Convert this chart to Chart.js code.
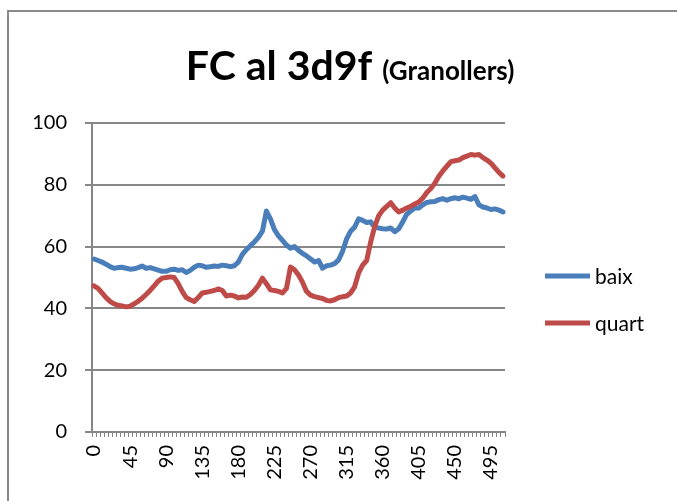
<!DOCTYPE html>
<html>
<head>
<meta charset="utf-8">
<script src="https://cdn.jsdelivr.net/npm/chart.js@4.4.1/dist/chart.umd.min.js"></script>
<style>
  html, body { margin: 0; padding: 0; background: #fff; }
  #wrap { width: 677px; height: 501px; }
</style>
</head>
<body>
<div id="wrap"><canvas id="myChart" width="677" height="501"></canvas></div>
<script>
// minuts (categories)
const minutes = [0, 5, 10, 15, 20, 25, 30, 35, 40, 45, 50, 55, 60, 65, 70, 75, 80, 85, 90, 95,
  100, 105, 110, 115, 120, 125, 130, 135, 140, 145, 150, 155, 160, 165, 170, 175, 180, 185, 190, 195,
  200, 205, 210, 215, 220, 225, 230, 235, 240, 245, 250, 255, 260, 265, 270, 275, 280, 285, 290, 295,
  300, 305, 310, 315, 320, 325, 330, 335, 340, 345, 350, 355, 360, 365, 370, 375, 380, 385, 390, 395,
  400, 405, 410, 415, 420, 425, 430, 435, 440, 445, 450, 455, 460, 465, 470, 475, 480, 485, 490, 495,
  500, 505, 510];

const baix = [56, 55.5, 55, 54.3, 53.5, 53, 53.2, 53.3, 53, 52.7,
  52.8, 53.2, 53.7, 53, 53.2, 52.8, 52.4, 52, 52, 52.5,
  52.7, 52.3, 52.5, 51.6, 52.3, 53.3, 54, 53.8, 53.3, 53.5,
  53.7, 53.6, 54, 53.8, 53.5, 53.8, 55, 57.5, 59, 60.3,
  61.5, 63, 65, 71.5, 69, 65.5, 63.5, 62, 60.5, 59.5,
  60, 58.8, 57.8, 57, 56, 55, 55.5, 53, 53.8, 54,
  54.5, 55.7, 58.5, 62.5, 65, 66.3, 69, 68.5, 67.8, 68,
  66.3, 66, 65.8, 65.7, 66, 64.8, 65.8, 68, 70.5, 71.5,
  72.5, 72.5, 73.5, 74.3, 74.5, 74.6, 75.2, 75.5, 75, 75.5,
  75.8, 75.5, 76, 75.7, 75.3, 76.2, 73.5, 72.8, 72.5, 72,
  72.2, 71.8, 71.2];

const quart = [47.3, 46.5, 45, 43.5, 42.3, 41.5, 41, 40.8, 40.5, 40.7,
  41.5, 42.3, 43.3, 44.5, 45.8, 47.3, 48.8, 49.8, 50, 50.2,
  50, 48, 45.5, 43.5, 42.8, 42.2, 43.5, 45, 45.2, 45.5,
  45.8, 46.3, 45.8, 44, 44.3, 44, 43.4, 43.7, 43.6, 44.5,
  45.8, 47.5, 49.8, 48, 46, 45.8, 45.5, 45, 46.5, 53.4,
  52.5, 50.8, 48.5, 45.5, 44.3, 43.8, 43.5, 43.2, 42.6, 42.4,
  42.8, 43.5, 43.8, 44, 45, 47, 51.5, 54, 55.5, 61.5,
  66.5, 70, 71.8, 73, 74.2, 72.5, 71.2, 71.8, 72.5, 73,
  73.8, 74.4, 75.7, 77.5, 78.8, 80.5, 82.8, 84.5, 86, 87.5,
  87.8, 88, 88.8, 89.3, 89.8, 89.6, 89.8, 88.8, 88, 87,
  85.5, 84, 82.8];

const yTicks = [0, 20, 40, 60, 80, 100];

const FONT = 'Lato, "Open Sans", sans-serif';
const GRID = '#878787';

// marc, títol i llegenda dibuixats a mà
const decor = {
  id: 'decor',
  beforeDraw(chart) {
    const ctx = chart.ctx;
    ctx.save();
    ctx.fillStyle = '#fff';
    ctx.fillRect(0, 0, chart.width, chart.height);
    ctx.strokeStyle = '#8a8a8a';
    ctx.lineWidth = 2;
    ctx.strokeRect(8, 11, 700, 520);
    ctx.restore();
  },
  afterDraw(chart) {
    const ctx = chart.ctx;
    ctx.save();
    // títol
    const big = 'bold 41px ' + FONT;
    const small = 'bold 26px ' + FONT;
    const t1 = 'FC al 3d9f';
    const t2 = '(Granollers)';
    ctx.font = big;
    const w1 = ctx.measureText(t1).width;
    ctx.font = small;
    const w2 = ctx.measureText(t2).width;
    const gap = 10;
    let x = 350 - (w1 + gap + w2) / 2;
    ctx.fillStyle = '#000';
    ctx.textBaseline = 'alphabetic';
    ctx.textAlign = 'left';
    ctx.font = big;
    ctx.fillText(t1, x, 80);
    ctx.font = small;
    ctx.fillText(t2, x + w1 + gap, 80);

    // llegenda
    const rows = [276, 323];
    chart.data.datasets.forEach((ds, i) => {
      const y = rows[i];
      ctx.strokeStyle = ds.borderColor;
      ctx.lineWidth = 5;
      ctx.lineCap = 'butt';
      ctx.beginPath();
      ctx.moveTo(545, y);
      ctx.lineTo(590, y);
      ctx.stroke();
      ctx.fillStyle = '#000';
      ctx.font = '21px ' + FONT;
      ctx.textBaseline = 'middle';
      ctx.fillText(ds.label, 595, y + 1);
    });
    ctx.restore();
  }
};

const ctx = document.getElementById('myChart').getContext('2d');
const myChart = new Chart(ctx, {
  type: 'line',
  data: {
    labels: minutes,
    datasets: [
      {
        label: 'baix',
        data: baix,
        borderColor: '#4A7EBB',
        backgroundColor: '#4A7EBB',
        borderWidth: 5,
        pointRadius: 0,
        borderJoinStyle: 'round',
        borderCapStyle: 'round',
        fill: false,
        order: 2
      },
      {
        label: 'quart',
        data: quart,
        borderColor: '#BE4B48',
        backgroundColor: '#BE4B48',
        borderWidth: 5,
        pointRadius: 0,
        borderJoinStyle: 'round',
        borderCapStyle: 'round',
        fill: false,
        order: 1
      }
    ]
  },
  options: {
    responsive: false,
    animation: false,
    layout: {
      padding: { top: 123, right: 172, bottom: 0, left: 0 }
    },
    plugins: {
      legend: { display: false },
      title: { display: false },
      tooltip: { enabled: false }
    },
    scales: {
      x: {
        type: 'category',
        offset: true,
        grid: {
          drawOnChartArea: false,
          offset: true,
          tickLength: 5,
          color: GRID,
          lineWidth: 1
        },
        border: { color: GRID, width: 2 },
        ticks: {
          autoSkip: false,
          maxRotation: 90,
          minRotation: 90,
          padding: 8,
          color: '#000',
          font: { family: FONT, size: 20 },
          callback: function(value, index) {
            return index % 9 === 0 ? String(minutes[index]) : '';
          }
        },
        afterFit: function(scale) {
          scale.height = 69;
        }
      },
      y: {
        min: 0,
        max: 100,
        afterBuildTicks: function(scale) {
          scale.ticks = yTicks.map(v => ({ value: v }));
        },
        grid: {
          color: GRID,
          lineWidth: 2,
          tickLength: 7
        },
        border: { color: GRID, width: 2 },
        ticks: {
          padding: 18,
          color: '#000',
          font: { family: FONT, size: 20 }
        },
        afterFit: function(scale) {
          scale.width = 92;
        }
      }
    }
  },
  plugins: [decor]
});
</script>
</body>
</html>
